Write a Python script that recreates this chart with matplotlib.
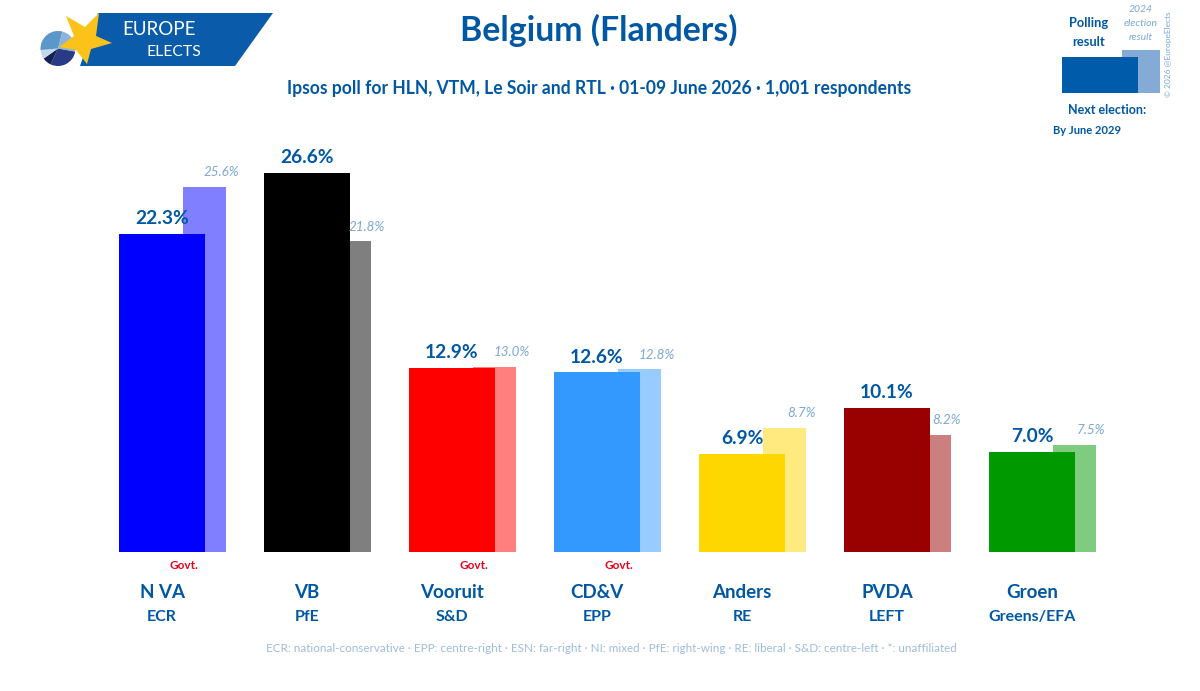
import matplotlib
matplotlib.use('Agg')
import matplotlib.pyplot as plt
from matplotlib.patches import Polygon, Wedge, Rectangle
import numpy as np

parties = ['N VA', 'VB', 'Vooruit', 'CD&V', 'Anders', 'PVDA', 'Groen']
groups = ['ECR', 'PfE', 'S&D', 'EPP', 'RE', 'LEFT', 'Greens/EFA']
poll = [22.3, 26.6, 12.9, 12.6, 6.9, 10.1, 7.0]
result_2024 = [25.6, 21.8, 13.0, 12.8, 8.7, 8.2, 7.5]
colors = ['#0000ff', '#000000', '#ff0000', '#3399ff', '#ffd700', '#990000', '#009900']
govt = [True, False, True, True, False, False, False]

title = 'Belgium (Flanders)'
subtitle = 'Ipsos poll for HLN, VTM, Le Soir and RTL · 01-09 June 2026 · 1,001 respondents'
footer = ('ECR: national-conservative · EPP: centre-right · ESN: far-right · NI: mixed · '
          'PfE: right-wing · RE: liberal · S&D: centre-left · *: unaffiliated')

BLUE = '#0057a3'
LIGHT = '#7ba7d2'
plt.rcParams['font.family'] = ['Lato', 'DejaVu Sans']

fig = plt.figure(figsize=(12, 6.91), dpi=100, facecolor='white')

# main axes fill the figure, 145 px per party and 14.26 px per %
ax = fig.add_axes([0, 0, 1, 1])
ax.set_xlim(-162 / 145, (1200 - 162) / 145)
ax.set_ylim(-(691 - 552) / 14.26, 552 / 14.26)
ax.axis('off')

x = np.arange(len(parties))
ax.bar(x + 0.29, result_2024, width=43 / 145, color=colors, alpha=0.5, linewidth=0, zorder=1)
ax.bar(x, poll, width=86 / 145, color=colors, linewidth=0, zorder=2)

for i in x:
    ax.annotate(f'{poll[i]:.1f}%', (i, poll[i]), xytext=(0, 11), textcoords='offset points',
                ha='center', va='center', color=BLUE, fontsize=13.8, fontweight='bold', zorder=3)
    ax.annotate(f'{result_2024[i]:.1f}%', (i + 0.41, result_2024[i]), xytext=(0, 10.5),
                textcoords='offset points', ha='center', va='center', color=LIGHT,
                fontsize=9.6, fontstyle='italic', zorder=3)
    ax.annotate(parties[i], (i, 0), xytext=(0, -28.8), textcoords='offset points', ha='center',
                va='center', color=BLUE, fontsize=13.5, fontweight='bold')
    ax.annotate(groups[i], (i, 0), xytext=(0, -46.8), textcoords='offset points', ha='center',
                va='center', color=BLUE, fontsize=11.5, fontweight='bold')
    if govt[i]:
        ax.annotate('Govt.', (i + 0.15, 0), xytext=(0, -9.4), textcoords='offset points',
                    ha='center', va='center', color='#e8001c', fontsize=8.5, fontweight='bold')

# header, legend and logo in pixel coordinates
px = fig.add_axes([0, 0, 1, 1], facecolor='none')
px.set_xlim(0, 1200)
px.set_ylim(691, 0)
px.axis('off')

px.text(599, 30, title, ha='center', va='center', color=BLUE, fontsize=24.3, fontweight='bold')
px.text(599, 88, subtitle, ha='center', va='center', color=BLUE, fontsize=12.65, fontweight='bold')
px.text(611, 649, footer, ha='center', va='center', color='#9dbcdb', fontsize=8.4)

# logo
px.add_patch(Polygon([(98, 13), (273, 13), (235, 66), (80, 66)], color='#0a5cab', lw=0))
pie = [(10, 115, '#2b3a86'), (115, 145, '#14224f'), (145, 175, '#c3d8ec'),
       (175, 285, '#5b97c9'), (285, 370, '#8db3da')]
for a, b, c in pie:
    px.add_patch(Wedge((58, 48.5), 17.5, a, b, color=c, lw=0))
star = [(66, 16), (85, 27), (99, 13), (96, 36), (112, 43), (91, 49), (87, 64), (76, 50), (59, 47), (74, 36)]
px.add_patch(Polygon(star, color='#fbc319', lw=0))
px.text(122, 29, 'EUROPE', color='white', fontsize=13.5, va='center', ha='left')
px.text(147, 52, 'ELECTS', color='white', fontsize=11.3, va='center', ha='left')

# legend box
px.add_patch(Rectangle((1122, 50), 38, 43, color='#84abd6', lw=0))
px.add_patch(Rectangle((1062, 57), 76, 36, color='#005bab', lw=0))
px.text(1089, 23, 'Polling', ha='center', va='center', color=BLUE, fontsize=9.3, fontweight='bold')
px.text(1089, 42, 'result', ha='center', va='center', color=BLUE, fontsize=9.3, fontweight='bold')
px.text(1141, 9, '2024', ha='center', va='center', color=LIGHT, fontsize=7.5, fontstyle='italic')
px.text(1141, 23, 'election', ha='center', va='center', color=LIGHT, fontsize=7.5, fontstyle='italic')
px.text(1141, 37, 'result', ha='center', va='center', color=LIGHT, fontsize=7.5, fontstyle='italic')
px.text(1107, 110, 'Next election:', ha='center', va='center', color=BLUE, fontsize=9, fontweight='bold')
px.text(1087, 130, 'By June 2029', ha='center', va='center', color=BLUE, fontsize=8, fontweight='bold')
px.text(1169, 54, '© 2026 @EuropeElects', ha='center', va='center', rotation=90, color=LIGHT, fontsize=6)

fig.savefig('out.png', dpi=100)
